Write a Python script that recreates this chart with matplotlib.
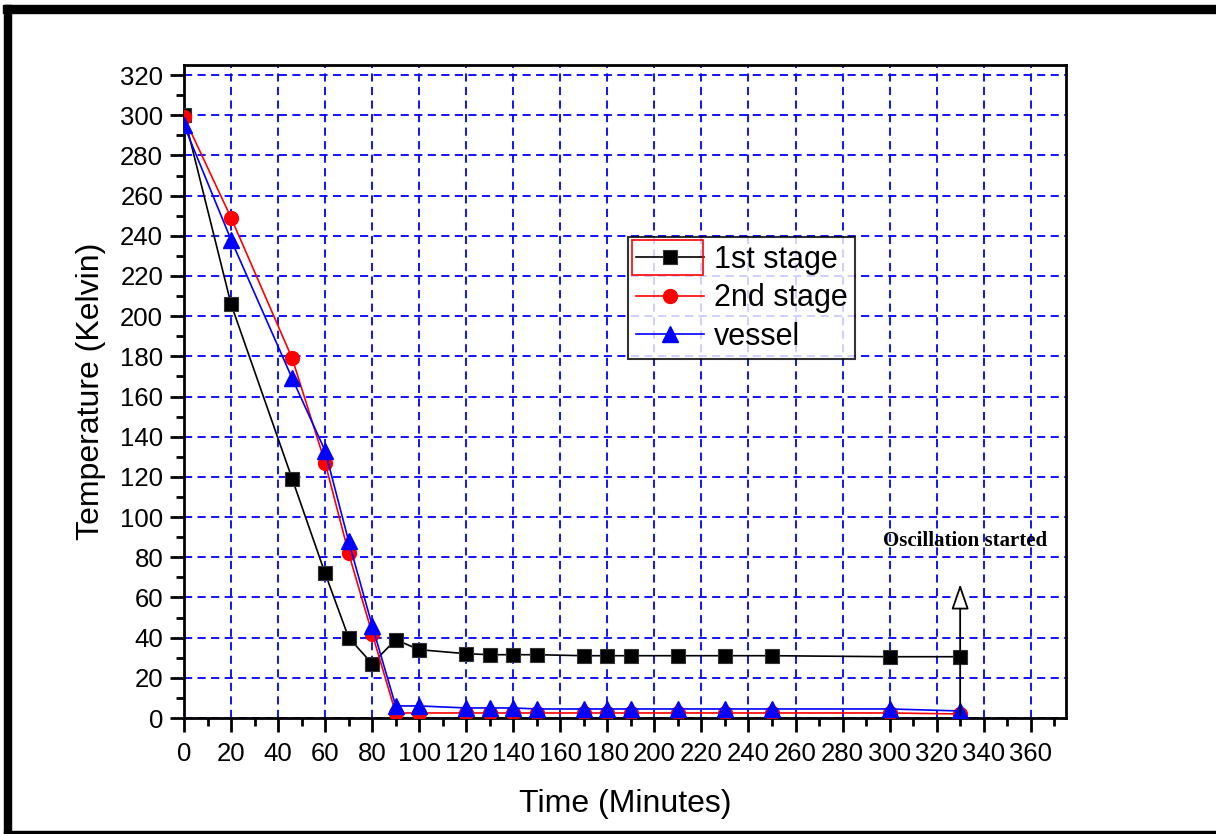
import matplotlib
matplotlib.use("Agg")
import matplotlib.pyplot as plt
from matplotlib.patches import Rectangle, FancyArrowPatch
from matplotlib.ticker import MultipleLocator

# ---- data ----
time_1st = [0, 20, 46, 60, 70, 80, 90, 100, 120, 130, 140, 150, 170, 180, 190, 210, 230, 250, 300, 330]
temp_1st = [300, 206, 119, 72, 40, 27, 39, 34, 32, 31.5, 31.5, 31.5, 31, 31, 31, 31, 31, 31, 30.5, 30.5]

time_2nd = [0, 20, 46, 60, 70, 80, 90, 100, 120, 130, 140, 150, 170, 180, 190, 210, 230, 250, 300, 330]
temp_2nd = [299, 249, 179, 127, 82, 42, 2.5, 2.5, 2.5, 2.5, 2.5, 2.5, 2.5, 2.5, 2.5, 2.5, 2.5, 2.5, 2.5, 2]

time_vessel = [0, 20, 46, 60, 70, 80, 90, 100, 120, 130, 140, 150, 170, 180, 190, 210, 230, 250, 300, 330]
temp_vessel = [295, 238, 169, 133, 88, 46, 6, 6, 5, 5, 5, 4.5, 4.5, 4.5, 4.5, 4.5, 4.5, 4.5, 4.5, 3.5]

series_labels = ["1st stage", "2nd stage", "vessel"]
annotation_text = "Oscillation started"
annot_x = 330
annot_arrow_top = 68
x_label = "Time (Minutes)"
y_label = "Temperature (Kelvin)"

plt.rcParams['font.family'] = ['Liberation Sans', 'DejaVu Sans']

W, H = 1216, 834
fig = plt.figure(figsize=(W / 100, H / 100), dpi=100)
ax = fig.add_axes([184 / W, 1 - 718 / H, (1066 - 184) / W, (718 - 65) / H])

ax.plot(time_1st, temp_1st, color='black', lw=1.2, marker='s', ms=10,
        mfc='black', mec='#333333', mew=0.8, label=series_labels[0], zorder=3)
ax.plot(time_2nd, temp_2nd, color='red', lw=1.2, marker='o', ms=10,
        mfc='red', mec='red', label=series_labels[1], zorder=4)
ax.plot(time_vessel, temp_vessel, color='blue', lw=1.2, marker='^', ms=11,
        mfc='blue', mec='blue', label=series_labels[2], zorder=5)

ax.set_xlim(0, 375)
ax.set_ylim(0, 325)
ax.xaxis.set_major_locator(MultipleLocator(20))
ax.xaxis.set_minor_locator(MultipleLocator(10))
ax.yaxis.set_major_locator(MultipleLocator(20))
ax.yaxis.set_minor_locator(MultipleLocator(10))
ax.set_xticks(range(0, 361, 20))

ax.grid(True, which='major', color='blue', linestyle=(0, (4.5, 3)), lw=1.3, zorder=1)
ax.set_axisbelow(True)

ax.tick_params(which='major', direction='out', length=10, width=2, labelsize=18.5, pad=5,
               top=False, right=False)
ax.tick_params(which='minor', direction='out', length=6, width=2, top=False, right=False)
ax.tick_params(axis='x', which='major', pad=7)
for s in ax.spines.values():
    s.set_linewidth(2)

ax.set_xlabel(x_label, fontsize=23, labelpad=17)
ax.set_ylabel(y_label, fontsize=23, labelpad=10)

# annotation arrow and text
arrow = FancyArrowPatch((annot_x, 0), (annot_x, annot_arrow_top),
                        arrowstyle='-|>,head_length=1.3,head_width=0.45',
                        mutation_scale=12, fc='white', ec='black', lw=1.3, zorder=6)
ax.add_patch(arrow)
ax.text(annot_x + 2, 88, annotation_text, fontsize=15, fontweight='bold',
        family=['Liberation Serif', 'DejaVu Serif'], ha='center', va='center', zorder=7)

leg = ax.legend(loc='upper left', bbox_to_anchor=((628 - 184) / 882, (718 - 237) / 653),
                fontsize=22, frameon=True, fancybox=False, edgecolor='black',
                handlelength=2.25, handletextpad=0.3, borderpad=0.25, labelspacing=0.28,
                borderaxespad=0)
leg.get_frame().set_linewidth(1.5)
leg.set_zorder(10)

# red selection box around first legend entry
fig.add_artist(Rectangle((632 / W, 1 - 275 / H), (703 - 632) / W, (275 - 240) / H,
                         transform=fig.transFigure, fill=False, ec='red', lw=1.2, zorder=11))

# outer border
fig.add_artist(Rectangle((3 / W, 1 - 13 / H), 1, 8 / H, transform=fig.transFigure,
                         color='black', zorder=20))
fig.add_artist(Rectangle((4 / W, 0), 7 / W, 1 - 5 / H, transform=fig.transFigure,
                         color='black', zorder=20))
fig.add_artist(Rectangle((4 / W, 0), 1, 3 / H, transform=fig.transFigure,
                         color='black', zorder=20))

fig.savefig("out.png", dpi=100)
